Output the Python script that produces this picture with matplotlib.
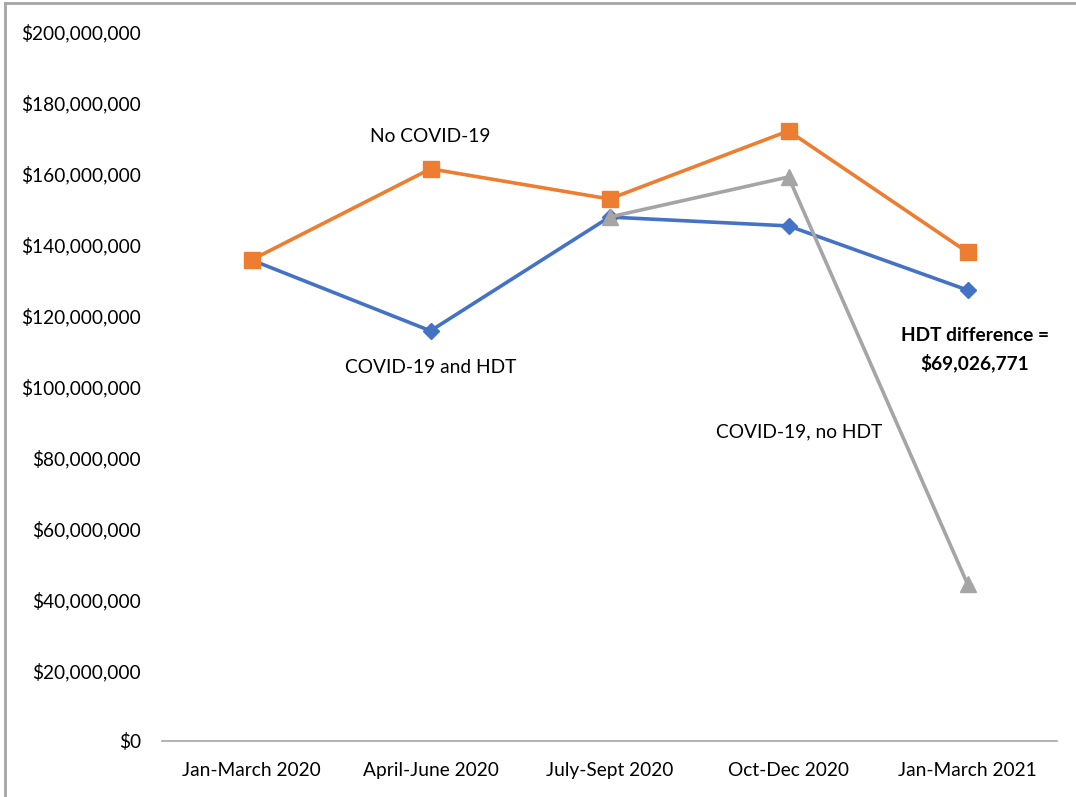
import matplotlib
matplotlib.use("Agg")
import matplotlib.pyplot as plt
import numpy as np
from matplotlib.ticker import FuncFormatter
from matplotlib.lines import Line2D

categories = ["Jan-March 2020", "April-June 2020", "July-Sept 2020", "Oct-Dec 2020", "Jan-March 2021"]
covid_hdt = [135.7e6, 115.7e6, 147.8e6, 145.3e6, 127.2e6]
no_covid = [135.7e6, 161.4e6, 152.9e6, 172.1e6, 137.9e6]
covid_no_hdt = [np.nan, np.nan, 147.8e6, 159.1e6, 44.3e6]

plt.rcParams['font.family'] = ['Lato', 'DejaVu Sans']

fig = plt.figure(figsize=(10.76, 7.97), dpi=100)
ax = fig.add_axes([162/1076, 1-741/797, (1057-162)/1076, (741-32)/797])

x = np.arange(len(categories))
ax.plot(x, covid_hdt, color="#4472C4", lw=2.6, marker="D", markersize=8, zorder=3)
ax.plot(x, no_covid, color="#ED7D31", lw=2.6, marker="s", markersize=11, zorder=3)
ax.plot(x, covid_no_hdt, color="#A5A5A5", lw=2.6, marker="^", markersize=11, zorder=4)

ax.set_xlim(-0.5, 4.5)
ax.set_ylim(0, 200e6)
ax.set_yticks(np.arange(0, 200e6 + 1, 20e6))
ax.yaxis.set_major_formatter(FuncFormatter(lambda v, p: "${:,.0f}".format(v)))
ax.set_xticks(x)
ax.set_xticklabels(categories)
for s in ["top", "right", "left"]:
    ax.spines[s].set_visible(False)
ax.spines["bottom"].set_color("#A6A6A6")
ax.spines["bottom"].set_linewidth(1.2)
fs = 13.8
ax.tick_params(axis="both", length=0, labelsize=fs, colors="black")
ax.tick_params(axis="y", pad=15)
ax.tick_params(axis="x", pad=15)

ax.text(1, 170.5e6, "No COVID-19", ha="center", va="center", fontsize=fs)
ax.text(1, 105.5e6, "COVID-19 and HDT", ha="center", va="center", fontsize=fs)
ax.text(3.06, 87.2e6, "COVID-19, no HDT", ha="center", va="center", fontsize=fs)
ax.text(4.04, 114.4e6, "HDT difference =", ha="center", va="center", fontsize=fs, fontweight="bold")
ax.text(4.04, 106.8e6, "$69,026,771", ha="center", va="center", fontsize=fs, fontweight="bold")

# chart area border (left and top visible)
fig.add_artist(Line2D([5/1076, 5/1076], [0, 1-3/797], transform=fig.transFigure, color="#A6A6A6", lw=2))
fig.add_artist(Line2D([5/1076, 1], [1-3/797, 1-3/797], transform=fig.transFigure, color="#A6A6A6", lw=2))

fig.savefig("out.png", dpi=100)
